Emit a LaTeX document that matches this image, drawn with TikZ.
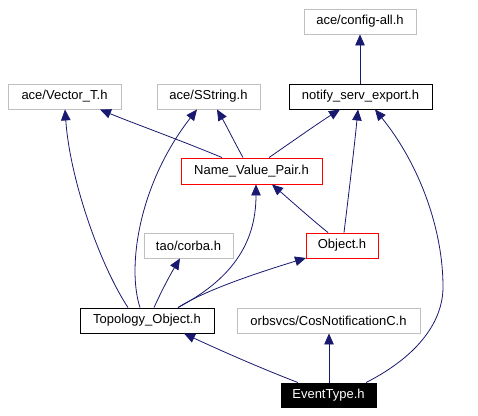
\documentclass[tikz,border=0pt]{standalone}
\usepackage{fontspec}
\setmainfont{Liberation Sans}
\usetikzlibrary{arrows.meta}
\definecolor{edgeblue}{HTML}{191970}
\definecolor{boxgray}{HTML}{BFBFBF}
\tikzset{
  box/.style={draw=boxgray, line width=0.9pt, inner sep=0pt, minimum height=25pt, font=\fontsize{13}{15}\selectfont, text=black},
  blackbox/.style={box, draw=black},
  redbox/.style={box, draw=red},
  curbox/.style={box, draw=black, fill=black, text=white},
  arr/.style={draw=edgeblue, line width=0.8pt, -{Triangle[length=11pt,width=9.5pt]}, fill=none},
}
\begin{document}
\begin{tikzpicture}[x=1pt,y=-1pt]
\useasboundingbox (0,0) rectangle (478,415);
\node[box, minimum width=112pt] (cfg) at (360,21.5) {ace/config-all.h};
\node[box, minimum width=113pt] (vec) at (64.5,96.5) {ace/Vector\_T.h};
\node[box, minimum width=103pt] (sstr) at (208.5,96.5) {ace/SString.h};
\node[blackbox, minimum width=143pt] (nse) at (360.5,96.5) {notify\_serv\_export.h};
\node[redbox, minimum width=141pt, minimum height=26pt] (nvp) at (251.5,171) {Name\_Value\_Pair.h};
\node[box, minimum width=89pt] (corba) at (188.5,245.5) {tao/corba.h};
\node[redbox, minimum width=72pt] (obj) at (342,245.5) {Object.h};
\node[blackbox, minimum width=134pt] (topo) at (147,320.5) {Topology\_Object.h};
\node[box, minimum width=183pt] (orb) at (328.5,320.5) {orbsvcs/CosNotificationC.h};
\node[curbox, minimum width=95pt, minimum height=24pt] (evt) at (328.5,395) {EventType.h};

% edges
\draw[arr] ([xshift=-0.5pt]nse.north) -- (cfg.south);
\draw[arr] ([xshift=-29.5pt]nvp.north) .. controls (180,140) and (130,122) .. ([xshift=35.5pt]vec.south);
\draw[arr] ([xshift=-8.5pt]nvp.north) .. controls (236,145) and (226,125) .. ([xshift=8.5pt]sstr.south);
\draw[arr] ([xshift=17.5pt]nvp.north) .. controls (290,143) and (320,122) .. ([xshift=-20.5pt]nse.south);
\draw[arr] ([xshift=-14pt]obj.north) .. controls (310,218) and (290,200) .. ([xshift=20.5pt]nvp.south);
\draw[arr] ([xshift=2pt]obj.north) .. controls (348,200) and (354,150) .. ([xshift=-2.5pt]nse.south);
\draw[arr] ([xshift=-19pt]topo.north) .. controls (100,265) and (70,180) .. ([xshift=0.5pt]vec.south);
\draw[arr] ([xshift=-7pt]topo.north) .. controls (127,268) and (138,185) .. ([xshift=-11.5pt]sstr.south);
\draw[arr] ([xshift=31pt]topo.north) .. controls (230,280) and (256,245) .. ([xshift=4.5pt]nvp.south);
\draw[arr] ([xshift=31pt]topo.north) .. controls (205,290) and (260,272) .. ([xshift=-36pt,yshift=0.5pt]obj.south);
\draw[arr] ([xshift=7pt]topo.north) .. controls (162,290) and (170,275) .. ([xshift=-8.5pt]corba.south);
\draw[arr] ([xshift=-30.5pt]evt.north) .. controls (260,368) and (215,348) .. ([xshift=37pt]topo.south);
\draw[arr] ([xshift=0.5pt]evt.north) -- ([xshift=0.5pt]orb.south);
\draw[arr] ([xshift=37.5pt]evt.north) .. controls (420,355) and (443,320) .. (443,287) .. controls (443,230) and (420,165) .. ([xshift=14.5pt]nse.south);
\end{tikzpicture}
\end{document}
